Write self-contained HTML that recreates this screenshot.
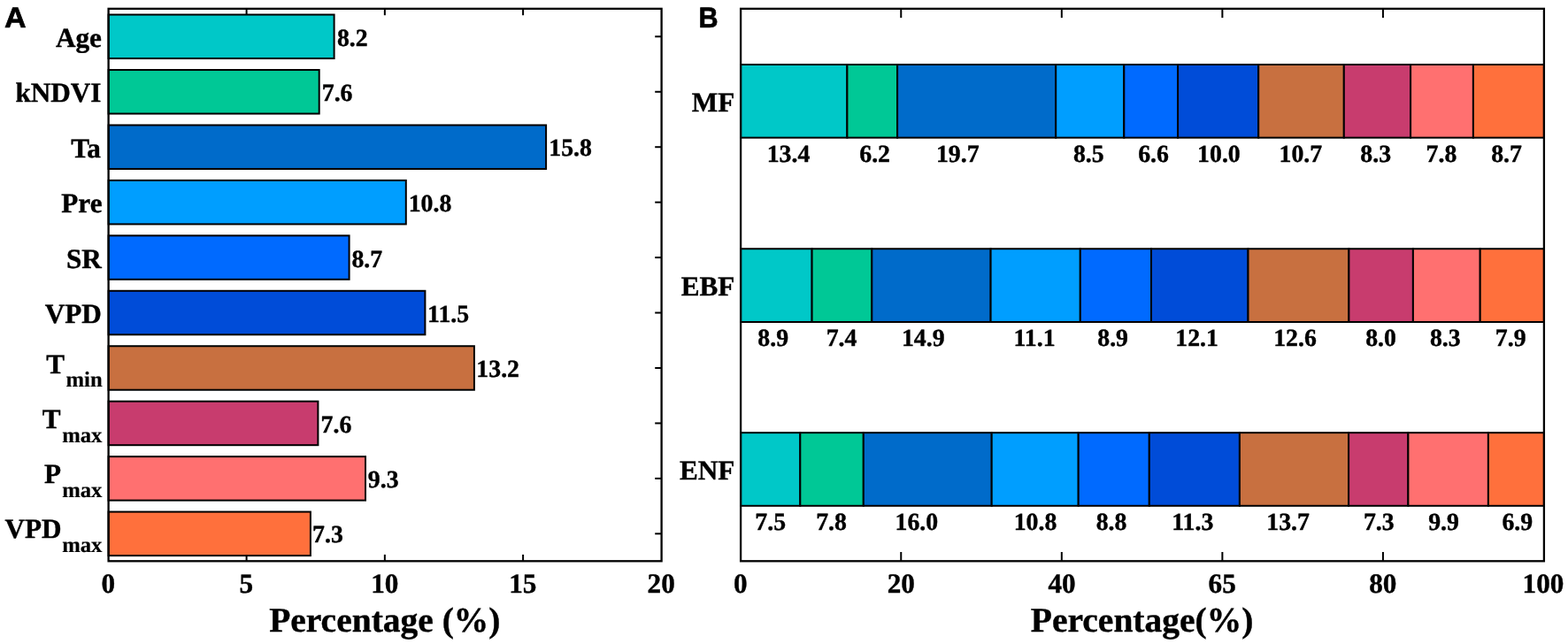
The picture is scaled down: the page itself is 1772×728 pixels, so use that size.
<!DOCTYPE html>
<html lang="en">
<head>
<meta charset="utf-8">
<title>Percentage contribution of variables</title>
<style>
html,body{margin:0;padding:0;background:#fff;}
body{width:1772px;height:728px;overflow:hidden;}
svg{display:block;}
text{font-family:"Liberation Serif", "Times New Roman", Times, serif;font-weight:700;fill:#000;stroke:#000;stroke-width:0.4;stroke-linejoin:round;text-rendering:geometricPrecision;}
.s{font-family:"Liberation Sans", Arial, Helvetica, sans-serif;font-weight:700;fill:#000;stroke:#000;stroke-width:0.7;}
.k{font-size:31.2px;}
.u{font-size:24.7px;stroke-width:0.2;}
.v{font-size:27.8px;}
.h{font-size:39.5px;}
.m{text-anchor:middle;}
.e{text-anchor:end;}
.ax{fill:none;stroke:#000;stroke-width:2.3;stroke-linecap:square;}
.tk{fill:none;stroke:#000;stroke-width:2;}
.b{stroke:#000;stroke-width:2;stroke-linejoin:miter;}
</style>
</head>
<body>
<svg width="1772" height="728" viewBox="0 0 1772 728" role="img" aria-label="Bar charts of percentage contribution">
<rect x="0" y="0" width="1772" height="728" fill="#ffffff"/>
<g id="panelA">
<line class="tk" x1="278.6" y1="634.3" x2="278.6" y2="626.9"/>
<line class="tk" x1="278.6" y1="9.85" x2="278.6" y2="17.25"/>
<line class="tk" x1="434.85" y1="634.3" x2="434.85" y2="626.9"/>
<line class="tk" x1="434.85" y1="9.85" x2="434.85" y2="17.25"/>
<line class="tk" x1="591.1" y1="634.3" x2="591.1" y2="626.9"/>
<line class="tk" x1="591.1" y1="9.85" x2="591.1" y2="17.25"/>
<line class="tk" x1="747.6" y1="41.32" x2="740.2" y2="41.32"/>
<line class="tk" x1="747.6" y1="103.77" x2="740.2" y2="103.77"/>
<line class="tk" x1="747.6" y1="166.21" x2="740.2" y2="166.21"/>
<line class="tk" x1="747.6" y1="228.66" x2="740.2" y2="228.66"/>
<line class="tk" x1="747.6" y1="291.1" x2="740.2" y2="291.1"/>
<line class="tk" x1="747.6" y1="353.55" x2="740.2" y2="353.55"/>
<line class="tk" x1="747.6" y1="415.99" x2="740.2" y2="415.99"/>
<line class="tk" x1="747.6" y1="478.44" x2="740.2" y2="478.44"/>
<line class="tk" x1="747.6" y1="540.88" x2="740.2" y2="540.88"/>
<line class="tk" x1="747.6" y1="603.33" x2="740.2" y2="603.33"/>
<rect class="b" x="122.6" y="16.57" width="255" height="49.5" fill="#00c8c8"/>
<rect class="b" x="122.6" y="79.02" width="238.1" height="49.5" fill="#00c896"/>
<rect class="b" x="122.6" y="141.46" width="494.5" height="49.5" fill="#006bca"/>
<rect class="b" x="122.6" y="203.91" width="336.2" height="49.5" fill="#009eff"/>
<rect class="b" x="122.6" y="266.35" width="272" height="49.5" fill="#006aff"/>
<rect class="b" x="122.6" y="328.8" width="357.8" height="49.5" fill="#004cd8"/>
<rect class="b" x="122.6" y="391.24" width="413.3" height="49.5" fill="#c87040"/>
<rect class="b" x="122.6" y="453.69" width="236.8" height="49.5" fill="#c83c6e"/>
<rect class="b" x="122.6" y="516.13" width="290.4" height="49.5" fill="#ff7070"/>
<rect class="b" x="122.6" y="578.58" width="228.3" height="49.5" fill="#ff703c"/>
<rect class="ax" x="122.6" y="9.85" width="625" height="624.45"/>
<text class="v" x="380.96" y="52">8.2</text>
<text class="v" x="363.74" y="114">7.6</text>
<text class="v" x="620.27" y="176">15.8</text>
<text class="v" x="461.67" y="239">10.8</text>
<text class="v" x="397.4" y="302">8.7</text>
<text class="v" x="483.12" y="364">11.5</text>
<text class="v" x="538.36" y="426">13.2</text>
<text class="v" x="362.54" y="489">7.6</text>
<text class="v" x="415.87" y="551">9.3</text>
<text class="v" x="353.06" y="613">7.3</text>
<text class="k e" x="114.91" y="53">Age</text>
<text class="k e" x="114.45" y="115">kNDVI</text>
<text class="k e" x="113.77" y="178">Ta</text>
<text class="k e" x="115.51" y="240">Pre</text>
<text class="k e" x="114.83" y="303">SR</text>
<text class="k e" x="114.92" y="365">VPD</text>
<text class="k e" x="73.17" y="422">T</text>
<text class="u e" x="115.67" y="437">min</text>
<text class="k e" x="68.67" y="484">T</text>
<text class="u e" x="115.43" y="500">max</text>
<text class="k e" x="69.08" y="546">P</text>
<text class="u e" x="115.43" y="562">max</text>
<text class="k e" x="69.52" y="608">VPD</text>
<text class="u e" x="115.43" y="624">max</text>
<text class="k m" x="122.3" y="670">0</text>
<text class="k m" x="278.25" y="670">5</text>
<text class="k m" x="434.74" y="670">10</text>
<text class="k m" x="590.72" y="670">15</text>
<text class="k m" x="747.14" y="670">20</text>
<text class="h m" x="434.83" y="714">Percentage (%)</text>
<text class="s" transform="translate(4.95 30.9) scale(1.05 1)" font-size="32.5">A</text>
</g>
<g id="panelB">
<line class="tk" x1="1018.26" y1="634.3" x2="1018.26" y2="624"/>
<line class="tk" x1="1018.26" y1="9.85" x2="1018.26" y2="20.15"/>
<line class="tk" x1="1199.82" y1="634.3" x2="1199.82" y2="624"/>
<line class="tk" x1="1199.82" y1="9.85" x2="1199.82" y2="20.15"/>
<line class="tk" x1="1381.38" y1="634.3" x2="1381.38" y2="624"/>
<line class="tk" x1="1381.38" y1="9.85" x2="1381.38" y2="20.15"/>
<line class="tk" x1="1562.94" y1="634.3" x2="1562.94" y2="624"/>
<line class="tk" x1="1562.94" y1="9.85" x2="1562.94" y2="20.15"/>
<rect class="b" x="837.1" y="73" width="120.3" height="82.65" fill="#00c8c8"/>
<rect class="b" x="957.4" y="73" width="56.7" height="82.65" fill="#00c896"/>
<rect class="b" x="1014.1" y="73" width="179.1" height="82.65" fill="#006bca"/>
<rect class="b" x="1193.2" y="73" width="77.1" height="82.65" fill="#009eff"/>
<rect class="b" x="1270.3" y="73" width="60.8" height="82.65" fill="#006aff"/>
<rect class="b" x="1331.1" y="73" width="91.1" height="82.65" fill="#004cd8"/>
<rect class="b" x="1422.2" y="73" width="96.6" height="82.65" fill="#c87040"/>
<rect class="b" x="1518.8" y="73" width="75.3" height="82.65" fill="#c83c6e"/>
<rect class="b" x="1594.1" y="73" width="70.8" height="82.65" fill="#ff7070"/>
<rect class="b" x="1664.9" y="73" width="80" height="82.65" fill="#ff703c"/>
<rect class="b" x="837.1" y="281.25" width="80.5" height="82.75" fill="#00c8c8"/>
<rect class="b" x="917.6" y="281.25" width="67.7" height="82.75" fill="#00c896"/>
<rect class="b" x="985.3" y="281.25" width="134.3" height="82.75" fill="#006bca"/>
<rect class="b" x="1119.6" y="281.25" width="101.2" height="82.75" fill="#009eff"/>
<rect class="b" x="1220.8" y="281.25" width="80.2" height="82.75" fill="#006aff"/>
<rect class="b" x="1301" y="281.25" width="109.5" height="82.75" fill="#004cd8"/>
<rect class="b" x="1410.5" y="281.25" width="113.9" height="82.75" fill="#c87040"/>
<rect class="b" x="1524.4" y="281.25" width="72.5" height="82.75" fill="#c83c6e"/>
<rect class="b" x="1596.9" y="281.25" width="75.8" height="82.75" fill="#ff7070"/>
<rect class="b" x="1672.7" y="281.25" width="72.2" height="82.75" fill="#ff703c"/>
<rect class="b" x="837.1" y="489.15" width="67.2" height="82.65" fill="#00c8c8"/>
<rect class="b" x="904.3" y="489.15" width="71.5" height="82.65" fill="#00c896"/>
<rect class="b" x="975.8" y="489.15" width="144.9" height="82.65" fill="#006bca"/>
<rect class="b" x="1120.7" y="489.15" width="98" height="82.65" fill="#009eff"/>
<rect class="b" x="1218.7" y="489.15" width="80.1" height="82.65" fill="#006aff"/>
<rect class="b" x="1298.8" y="489.15" width="102.1" height="82.65" fill="#004cd8"/>
<rect class="b" x="1400.9" y="489.15" width="123.2" height="82.65" fill="#c87040"/>
<rect class="b" x="1524.1" y="489.15" width="67.3" height="82.65" fill="#c83c6e"/>
<rect class="b" x="1591.4" y="489.15" width="90.5" height="82.65" fill="#ff7070"/>
<rect class="b" x="1681.9" y="489.15" width="63" height="82.65" fill="#ff703c"/>
<rect class="ax" x="837.1" y="9.85" width="907.8" height="624.45"/>
<text class="v m" x="891.04" y="183">13.4</text>
<text class="v m" x="988.62" y="183">6.2</text>
<text class="v m" x="1082.23" y="183">19.7</text>
<text class="v m" x="1230.35" y="183">8.5</text>
<text class="v m" x="1303.53" y="183">6.6</text>
<text class="v m" x="1377.42" y="183">10.0</text>
<text class="v m" x="1469.83" y="183">10.7</text>
<text class="v m" x="1554.71" y="183">8.3</text>
<text class="v m" x="1628.97" y="183">7.8</text>
<text class="v m" x="1702.58" y="183">8.7</text>
<text class="k e" x="830.3" y="126">MF</text>
<text class="v m" x="873.74" y="391">8.9</text>
<text class="v m" x="951.06" y="391">7.4</text>
<text class="v m" x="1043.29" y="391">14.9</text>
<text class="v m" x="1169.01" y="391">11.1</text>
<text class="v m" x="1257.64" y="391">8.9</text>
<text class="v m" x="1352.61" y="391">12.1</text>
<text class="v m" x="1463.49" y="391">12.6</text>
<text class="v m" x="1560.57" y="391">8.0</text>
<text class="v m" x="1633.31" y="391">8.3</text>
<text class="v m" x="1707.21" y="391">7.9</text>
<text class="k e" x="830.3" y="334">EBF</text>
<text class="v m" x="870.71" y="599">7.5</text>
<text class="v m" x="939.57" y="599">7.8</text>
<text class="v m" x="1035.82" y="599">16.0</text>
<text class="v m" x="1170.05" y="599">10.8</text>
<text class="v m" x="1256" y="599">8.8</text>
<text class="v m" x="1347.76" y="599">11.3</text>
<text class="v m" x="1455.63" y="599">13.7</text>
<text class="v m" x="1558.28" y="599">7.3</text>
<text class="v m" x="1631.52" y="599">9.9</text>
<text class="v m" x="1714.83" y="599">6.9</text>
<text class="k e" x="830.3" y="542">ENF</text>
<text class="k m" x="836.9" y="670">0</text>
<text class="k m" x="1018.24" y="670">20</text>
<text class="k m" x="1199.98" y="670">40</text>
<text class="k m" x="1381.14" y="670">65</text>
<text class="k m" x="1562.78" y="670">80</text>
<text class="k m" x="1743.94" y="670">100</text>
<text class="h m" x="1290.63" y="714">Percentage(%)</text>
<text class="s" transform="translate(789.4 30.7) scale(0.94 1)" font-size="32.5">B</text>
</g>
</svg>
</body>
</html>
